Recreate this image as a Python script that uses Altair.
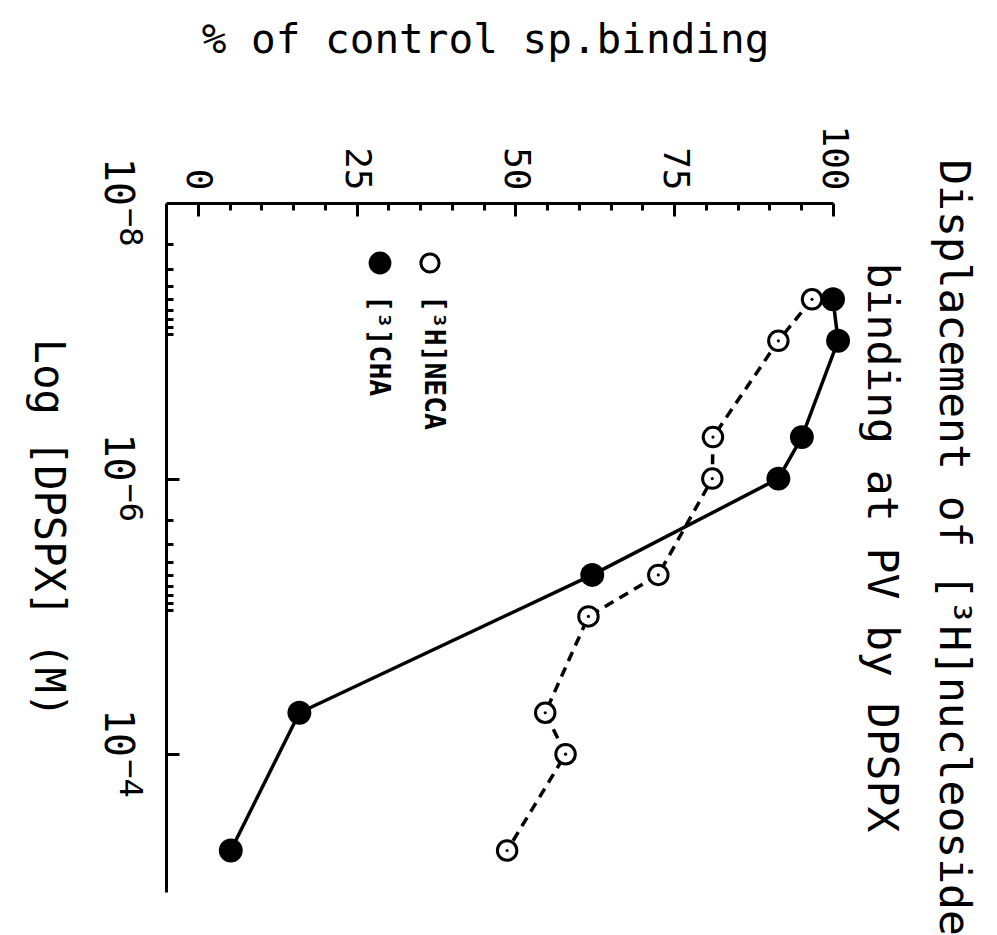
import altair as alt
import pandas as pd

# ---- data ----
conc_neca = [5e-8, 1e-7, 5e-7, 1e-6, 5e-6, 1e-5, 5e-5, 1e-4, 5e-4]
pct_neca = [96.7, 91.4, 81.1, 81.0, 72.5, 61.5, 54.7, 57.9, 48.7]
conc_cha = [5e-8, 1e-7, 5e-7, 1e-6, 5e-6, 5e-5, 5e-4]
pct_cha = [100.0, 100.8, 95.1, 91.4, 62.1, 16.0, 5.2]

pct_major = [0, 25, 50, 75, 100]
pct_minor = [5, 10, 15, 20, 30, 35, 40, 45, 55, 60, 65, 70, 80, 85, 90, 95]
conc_label_values = [1e-8, 1e-6, 1e-4]
conc_label_base = ["10", "10", "10"]
conc_label_exp = ["−8", "−6", "−4"]
conc_major = [1e-6, 1e-4]
conc_minor = [2e-8, 3e-8, 4e-8, 5e-8, 6e-8, 7e-8, 8e-8, 9e-8,
              2e-6, 3e-6, 4e-6, 5e-6, 6e-6, 7e-6, 8e-6, 9e-6]

legend_names = ["[³H]NECA", "[³]CHA"]

FONT = "DejaVu Sans Mono"
W, H = 667, 689

neca = pd.DataFrame({"conc": conc_neca, "pct": pct_neca})
cha = pd.DataFrame({"conc": conc_cha, "pct": pct_cha})
ylab = pd.DataFrame({"conc": conc_label_values, "base": conc_label_base,
                     "exp": conc_label_exp})

xs = alt.Scale(domain=[-5, 100], nice=False, zero=False)
ys = alt.Scale(type="log", domain=[1e-8, 1e-3], reverse=True, nice=False)

# main axes: labels + titles
ax_x_main = alt.Axis(orient="top", values=pct_major, ticks=False, tickSize=0,
                     labelAngle=90, labelAlign="right", labelBaseline="middle",
                     labelPadding=13, labelFont=FONT, labelFontSize=36,
                     labelColor="black", domainColor="black", domainWidth=3,
                     grid=False, title="% of control sp.binding",
                     titleFont=FONT, titleFontSize=41, titleFontWeight="normal",
                     titleColor="black", titleAngle=0, titleAlign="center",
                     titleBaseline="alphabetic", titleX=319, titleY=-151)
ax_y_main = alt.Axis(orient="left", values=conc_label_values, ticks=False, tickSize=0,
                     labels=False, domainColor="black",
                     domainWidth=3, grid=False, title="Log [DPSPX] (M)",
                     titleFont=FONT, titleFontSize=42, titleFontWeight="normal",
                     titleColor="black", titleAngle=90, titleAlign="center",
                     titleBaseline="middle", titleX=-119, titleY=325)
# inward major ticks
ax_x_major = alt.Axis(orient="bottom", offset=-H, values=pct_major, labels=False,
                      domain=False, grid=False, tickSize=13, tickWidth=3,
                      tickColor="black", title=None)
ax_y_major = alt.Axis(orient="right", offset=-W, values=conc_major, labels=False,
                      domain=False, grid=False, tickSize=13, tickWidth=3,
                      tickColor="black", title=None)
# inward minor ticks
ax_x_minor = alt.Axis(orient="bottom", offset=-H, values=pct_minor, labels=False,
                      domain=False, grid=False, tickSize=7, tickWidth=3,
                      tickColor="black", title=None)
ax_y_minor = alt.Axis(orient="right", offset=-W, values=conc_minor, labels=False,
                      domain=False, grid=False, tickSize=7, tickWidth=3,
                      tickColor="black", title=None)

neca_line = alt.Chart(neca).mark_line(color="black", strokeWidth=3.5,
                                      strokeDash=[10, 7], clip=False).encode(
    x=alt.X("pct:Q", scale=xs, axis=ax_x_main),
    y=alt.Y("conc:Q", scale=ys, axis=ax_y_main),
    order="conc:Q",
)
cha_line = alt.Chart(cha).mark_line(color="black", strokeWidth=3.5, clip=False).encode(
    x=alt.X("pct:Q", scale=xs, axis=ax_x_major),
    y=alt.Y("conc:Q", scale=ys, axis=ax_y_major),
    order="conc:Q",
)
neca_pts = alt.Chart(neca).mark_point(shape="circle", filled=True, fill="white",
                                      stroke="black", strokeWidth=3, size=380,
                                      opacity=1, clip=False).encode(
    x=alt.X("pct:Q", scale=xs, axis=ax_x_minor),
    y=alt.Y("conc:Q", scale=ys, axis=ax_y_minor),
)
neca_dots = alt.Chart(neca).mark_point(shape="circle", filled=True, color="black",
                                       size=10, opacity=1, clip=False).encode(
    x=alt.X("pct:Q", scale=xs, axis=None),
    y=alt.Y("conc:Q", scale=ys, axis=None),
)
cha_pts = alt.Chart(cha).mark_point(shape="circle", filled=True, color="black",
                                    size=572, opacity=1, clip=False).encode(
    x=alt.X("pct:Q", scale=xs, axis=None),
    y=alt.Y("conc:Q", scale=ys, axis=None),
)

# concentration tick labels "10" with raised exponent
ylab_base = alt.Chart(ylab).mark_text(
    angle=90, align="right", baseline="alphabetic", font=FONT, fontSize=40,
    color="black", dx=3, clip=False).encode(
    x=alt.value(-61), y=alt.Y("conc:Q", scale=ys, axis=None), text="base:N")
ylab_exp = alt.Chart(ylab).mark_text(
    angle=90, align="left", baseline="alphabetic", font=FONT, fontSize=32,
    color="black", dx=5, clip=False).encode(
    x=alt.value(-46), y=alt.Y("conc:Q", scale=ys, axis=None), text="exp:N")

# hand-drawn legend inside the frame
leg_open = alt.Chart(pd.DataFrame({"n": [legend_names[0]]})).mark_point(
    shape="circle", filled=True, fill="white", stroke="black", strokeWidth=3,
    size=330, opacity=1).encode(x=alt.value(264), y=alt.value(60))
leg_fill = alt.Chart(pd.DataFrame({"n": [legend_names[1]]})).mark_point(
    shape="circle", filled=True, color="black", size=520, opacity=1).encode(
    x=alt.value(214), y=alt.value(60))
leg_t1 = alt.Chart(pd.DataFrame({"n": [legend_names[0]]})).mark_text(
    angle=90, align="left", baseline="middle", font=FONT, fontSize=28,
    fontWeight="bold", color="black").encode(
    x=alt.value(267), y=alt.value(92), text="n:N")
leg_t2 = alt.Chart(pd.DataFrame({"n": [legend_names[1]]})).mark_text(
    angle=90, align="left", baseline="middle", font=FONT, fontSize=28,
    fontWeight="bold", color="black").encode(
    x=alt.value(212), y=alt.value(92), text="n:N")

chart = alt.layer(
    neca_line, cha_line, neca_pts, neca_dots, cha_pts, ylab_base, ylab_exp,
    leg_open, leg_fill, leg_t1, leg_t2,
).resolve_axis(x="independent", y="independent").properties(
    width=W, height=H,
    autosize=alt.AutoSizeParams(type="none"),
    padding={"left": 166, "top": 203, "right": 164, "bottom": 43},
    background="white",
    title=alt.TitleParams(
        text=["Displacement of [³H]nucleoside", "binding at PV by DPSPX"],
        orient="right", anchor="middle", angle=90, font=FONT, fontSize=43,
        fontWeight="normal", color="black", lineHeight=72, offset=8,
    ),
).configure_view(stroke=None)

chart.save("out.html", embed_options={"renderer": "svg", "actions": False})
